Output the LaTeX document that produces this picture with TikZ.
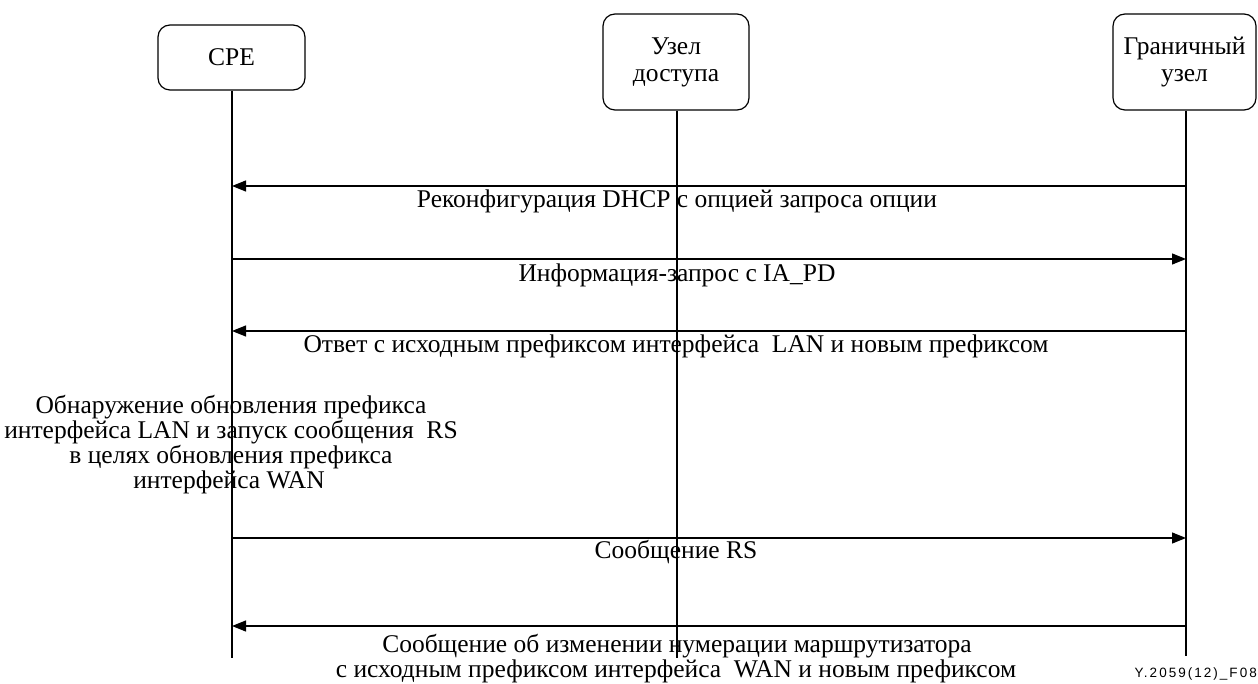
\documentclass[tikz,border=0pt]{standalone}
\usepackage{fontspec}
\setmainfont{Liberation Serif}
\newfontfamily\figsans[LetterSpace=15]{Liberation Sans}
\usetikzlibrary{arrows.meta}
\begin{document}
\begin{tikzpicture}[x=1pt,y=-1pt,
  lbl/.style={font=\fontsize{25.5}{25}\selectfont, inner sep=0pt, anchor=base},
  actor/.style={draw, line width=1.2pt, rounded corners=12pt, inner sep=0pt,
    font=\fontsize{25.5}{27}\selectfont, align=center},
  life/.style={line width=1.2pt},
  msg/.style={line width=1.2pt, -{Triangle[length=14pt,width=11pt]}}]
\useasboundingbox (0,0) rectangle (1258,684);

% participants
\node[actor, minimum width=147pt, minimum height=65pt] (cpe) at (231.5,57.5) {CPE};
\node[actor, minimum width=146pt, minimum height=96pt] (an) at (676,62) {Узел\\доступа};
\node[actor, minimum width=143pt, minimum height=96pt] (bn) at (1184.5,62) {Граничный\\узел};

% lifelines
\coordinate (cpeE) at (232,658);
\coordinate (anE) at (677,658);
\coordinate (bnE) at (1186,656);
\draw[life] (cpe.south -| cpeE) -- (cpeE);
\draw[life] (an.south -| anE) -- (anE);
\draw[life] (bn.south -| bnE) -- (bnE);

% message anchors on the lifelines
\foreach \n/\y in {1/186,2/259,3/331,4/538,5/626}{
  \coordinate (c\n) at (232,\y);
  \coordinate (b\n) at (1186,\y);
}

% messages
\draw[msg] (b1) -- (c1);
\node[lbl] (t1) at (677,208) {Реконфигурация DHCP с опцией запроса опции};

\draw[msg] (c2) -- (b2);
\node[lbl] (t2) at (677,282) {Информация-запрос с IA\_PD};

\draw[msg] (b3) -- (c3);
\node[lbl] (t3) at (676,353) {Ответ с исходным префиксом интерфейса\ \ LAN и новым префиксом};

% local action at the CPE
\node[lbl] (n1) at (231,413) {Обнаружение обновления префикса};
\node[lbl] (n2) at (231,438) {интерфейса LAN и запуск сообщения\ \ RS};
\node[lbl] (n3) at (231,463) {в целях обновления префикса};
\node[lbl] (n4) at (229,488) {интерфейса WAN};

\draw[msg] (c4) -- (b4);
\node[lbl] (t4) at (676,558) {Сообщение RS};

\draw[msg] (b5) -- (c5);
\node[lbl] (t5a) at (677,652) {Сообщение об изменении нумерации маршрутизатора};
\node[lbl] (t5b) at (676,677) {с исходным префиксом интерфейса\ \ WAN и новым префиксом};

% figure tag
\node[font=\figsans\fontsize{13.5}{15}\selectfont, inner sep=0pt, anchor=base east] (tag) at (1257,677) {Y.2059(12)\_F08};
\end{tikzpicture}
\end{document}
